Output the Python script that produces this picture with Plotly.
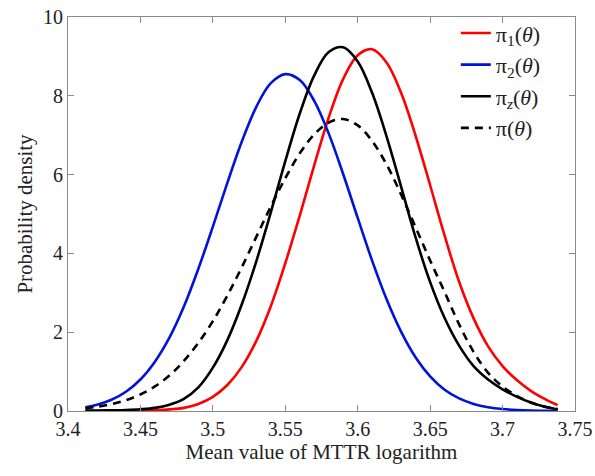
import plotly.graph_objects as go

x_vals = [3.412, 3.42, 3.43, 3.44, 3.45, 3.46, 3.47, 3.48, 3.49, 3.50,
          3.51, 3.52, 3.53, 3.54, 3.55, 3.56, 3.57, 3.58, 3.59, 3.60,
          3.61, 3.62, 3.63, 3.64, 3.65, 3.66, 3.67, 3.68, 3.69, 3.70,
          3.71, 3.72, 3.73, 3.738]

pi1 = [0.0, 0.0, 0.002, 0.005, 0.01, 0.02, 0.04, 0.08, 0.18, 0.36,
       0.66, 1.12, 1.78, 2.66, 3.75, 4.96, 6.24, 7.45, 8.43, 9.03,
       9.18, 8.84, 8.07, 6.98, 5.73, 4.45, 3.28, 2.35, 1.64, 1.14,
       0.78, 0.50, 0.29, 0.15]

pi2 = [0.096, 0.159, 0.285, 0.489, 0.80, 1.25, 1.86, 2.65, 3.61, 4.68,
       5.79, 6.84, 7.72, 8.32, 8.55, 8.40, 7.87, 7.04, 6.01, 4.90,
       3.81, 2.83, 2.01, 1.36, 0.88, 0.54, 0.32, 0.18, 0.096, 0.049,
       0.024, 0.011, 0.005, 0.003]

piz = [0.01, 0.012, 0.018, 0.027, 0.045, 0.08, 0.16, 0.31, 0.60, 1.10,
       1.80, 2.71, 3.80, 5.04, 6.34, 7.55, 8.52, 9.11, 9.23, 8.87,
       8.07, 6.96, 5.69, 4.40, 3.27, 2.36, 1.66, 1.14, 0.80, 0.55,
       0.36, 0.21, 0.10, 0.04]

pi_mix = [0.07, 0.106, 0.173, 0.273, 0.42, 0.625, 0.90, 1.27, 1.73, 2.28,
          2.93, 3.65, 4.42, 5.19, 5.91, 6.54, 7.02, 7.32, 7.41, 7.25,
          6.85, 6.25, 5.49, 4.66, 3.82, 3.02, 2.20, 1.50, 0.97, 0.62,
          0.38, 0.21, 0.10, 0.05]

x_ticks = [3.4, 3.45, 3.5, 3.55, 3.6, 3.65, 3.7, 3.75]
x_tick_text = ["3.4", "3.45", "3.5", "3.55", "3.6", "3.65", "3.7", "3.75"]
y_ticks = [0, 2, 4, 6, 8, 10]
y_tick_text = ["0", "2", "4", "6", "8", "10"]

names = ["π<sub>1</sub>(<i>θ</i>)", "π<sub>2</sub>(<i>θ</i>)",
         "π<sub><i>z</i></sub>(<i>θ</i>)", "π(<i>θ</i>)"]

SERIF = "Liberation Serif"
TXT = "#222222"
AX = "#8a8a8a"

fig = go.Figure()
series = [(pi1, "#ff0000", "solid"), (pi2, "#0014d8", "solid"),
          (piz, "#000000", "solid"), (pi_mix, "#000000", "8px,6px")]
for (ys, col, dash), nm in zip(series, names):
    fig.add_trace(go.Scatter(x=x_vals, y=ys, mode="lines", name=nm,
                             line=dict(color=col, width=2.6, dash=dash,
                                       shape="spline", smoothing=1.0)))

fig.update_layout(
    width=595, height=476,
    margin=dict(l=68, r=20, t=17, b=65, autoexpand=False),
    paper_bgcolor="white", plot_bgcolor="white",
    font=dict(family=SERIF, size=20, color=TXT),
    showlegend=True,
    legend=dict(x=0.765, y=1.012, xanchor="left", yanchor="top",
                bgcolor="rgba(0,0,0,0)",
                font=dict(family=SERIF, size=22, color=TXT),
                tracegroupgap=0),
    xaxis=dict(range=[3.4, 3.75], tickvals=x_ticks, ticktext=x_tick_text,
               ticks="inside", ticklen=6, tickcolor=AX,
               tickfont=dict(family=SERIF, size=20, color=TXT),
               ticklabeloverflow="allow",
               showline=True, linecolor=AX, linewidth=1, mirror="ticks",
               showgrid=False, zeroline=False,
               title=dict(text="Mean value of MTTR logarithm", standoff=4,
                          font=dict(family=SERIF, size=21, color=TXT))),
    yaxis=dict(range=[0, 10], tickvals=y_ticks, ticktext=y_tick_text,
               ticks="inside", ticklen=6, tickcolor=AX,
               tickfont=dict(family=SERIF, size=20, color=TXT),
               ticklabeloverflow="allow",
               showline=True, linecolor=AX, linewidth=1, mirror="ticks",
               showgrid=False, zeroline=False,
               title=dict(text="Probability density", standoff=4,
                          font=dict(family=SERIF, size=21, color=TXT))),
)

# remove the default 8px page margin so the figure sits at the window origin
fig.write_html("out.html", config={"displayModeBar": False},
               post_script="document.body.style.margin='0px';")
